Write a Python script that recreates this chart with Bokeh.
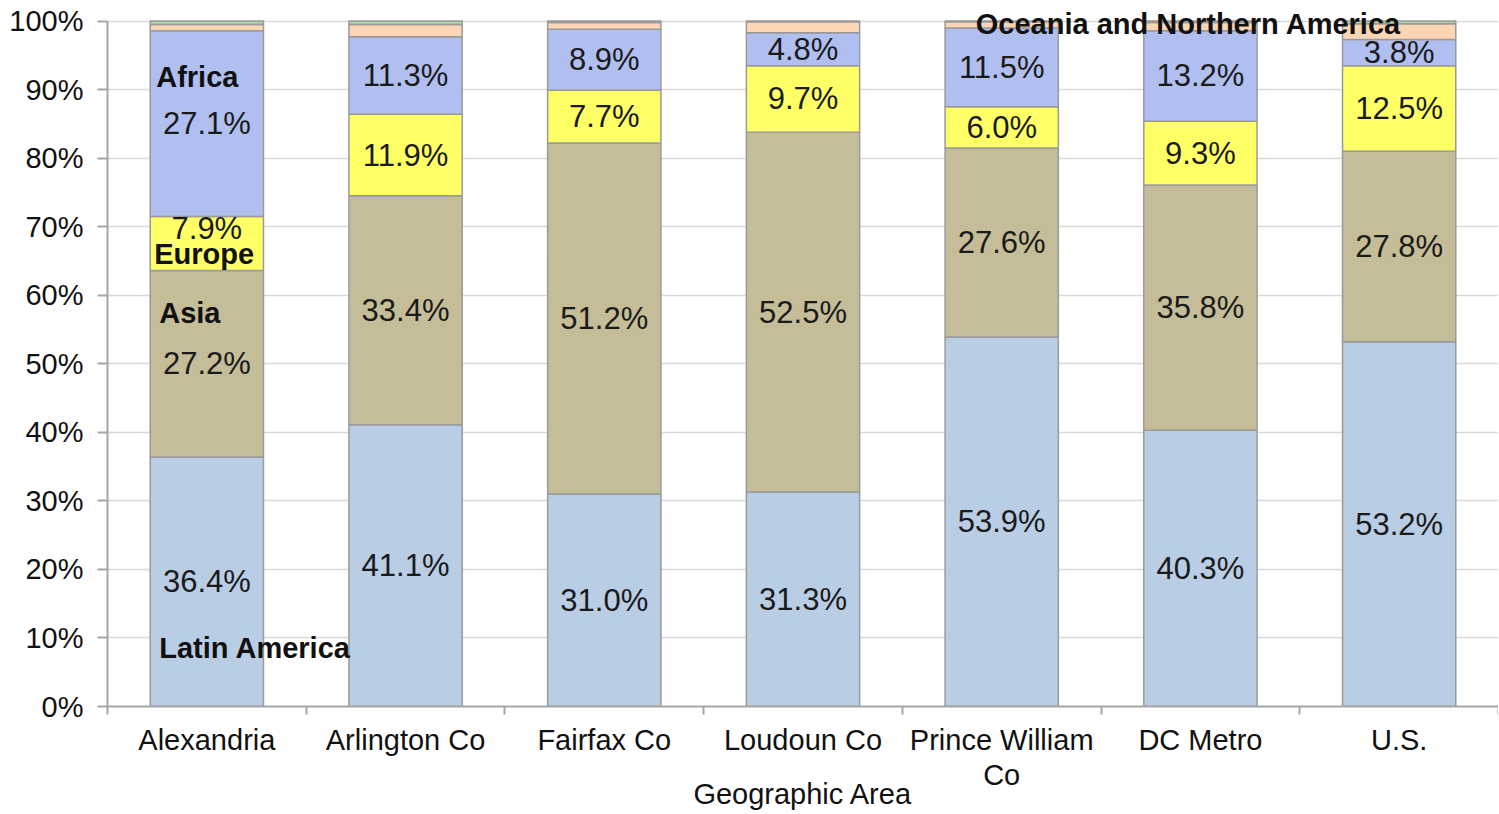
import numpy as np
from bokeh.plotting import figure
from bokeh.models import ColumnDataSource, FixedTicker, PrintfTickFormatter, Label, Range1d
from bokeh.core.properties import value
from bokeh.embed import file_html
from bokeh.resources import INLINE

# ---------------- data ----------------
geos = ["Alexandria", "Arlington Co", "Fairfax Co", "Loudoun Co", "Prince William Co", "DC Metro", "U.S."]
geo_tick_labels = ["Alexandria", "Arlington Co", "Fairfax Co", "Loudoun Co", "Prince William\nCo", "DC Metro", "U.S."]
latin_america = [36.4, 41.1, 31.0, 31.3, 53.9, 40.3, 53.2]
asia = [27.2, 33.4, 51.2, 52.5, 27.6, 35.8, 27.8]
europe = [7.9, 11.9, 7.7, 9.7, 6.0, 9.3, 12.5]
africa = [27.1, 11.3, 8.9, 4.8, 11.5, 13.2, 3.8]
northern_america = [0.9, 1.8, 1.0, 1.6, 0.9, 1.2, 2.3]
oceania = [0.5, 0.5, 0.2, 0.1, 0.1, 0.2, 0.4]
y_ticks = [0, 10, 20, 30, 40, 50, 60, 70, 80, 90, 100]

series_names = ["Latin America", "Asia", "Europe", "Africa", "Northern America", "Oceania"]
series_values = [latin_america, asia, europe, africa, northern_america, oceania]
colors = ["#B9CDE5", "#C4BD97", "#FFFF66", "#B0BFF0", "#FCD5B5", "#A6D6A0"]
labelled_series = 4  # value labels shown for the first four series

FONT_NAME = "Liberation Sans"
FONT = value(FONT_NAME)
BAR_W = 0.57

n = len(geos)
xs = (np.arange(n) + 0.5).tolist()

data = {"x": xs}
for name, vals in zip(series_names, series_values):
    data[name] = vals
source = ColumnDataSource(data)

p = figure(width=1498, height=812, output_backend="svg", toolbar_location=None,
           x_range=Range1d(0, n), y_range=Range1d(0, 101.4),
           min_border_left=107, min_border_right=0, min_border_top=11, min_border_bottom=106,
           background_fill_color="white", border_fill_color="white")
p.outline_line_color = None

p.vbar_stack(series_names, x="x", width=BAR_W, color=colors, source=source,
             line_color="#9a9a9a", line_width=1.5)

# value labels
lx, ly, lt, loff = [], [], [], []
for i in range(n):
    base = 0.0
    for s in range(labelled_series):
        v = series_values[s][i]
        lx.append(xs[i])
        ly.append(base + v / 2.0)
        lt.append(f"{v:.1f}%")
        loff.append(-15 if (i == 0 and s == 2) else 0)
        base += v
lsrc = ColumnDataSource(dict(x=lx, y=ly, text=lt, yoff=loff))
p.text(x="x", y="y", text="text", source=lsrc, y_offset="yoff",
       text_align="center", text_baseline="middle",
       text_font=FONT, text_font_size="31px", text_color="#1a1a1a")

# category (series) name labels
bar_left0 = xs[0] - BAR_W / 2
for txt, yv, xoff in [("Africa", 91.8, 6), ("Europe", 66.0, 4), ("Asia", 57.4, 9), ("Latin America", 8.6, 9)]:
    p.add_layout(Label(x=bar_left0, y=yv, x_offset=xoff, text=txt, text_font=FONT_NAME,
                       text_font_size="29px", text_font_style="bold", text_color="#111111",
                       text_align="left", text_baseline="middle"))
p.add_layout(Label(x=5.44, y=99.6, text="Oceania and Northern America", text_font=FONT_NAME,
                   text_font_size="29px", text_font_style="bold", text_color="#111111",
                   text_align="center", text_baseline="middle"))

# axes
ax = p.xaxis[0]
ax.ticker = FixedTicker(ticks=xs, minor_ticks=list(range(n + 1)))
ax.major_label_overrides = {x: lab for x, lab in zip(xs, geo_tick_labels)}
ax.major_tick_out = 0
ax.major_tick_in = 0
ax.minor_tick_out = 8
ax.minor_tick_in = 0
ax.minor_tick_line_color = "#a6a6a6"
ax.minor_tick_line_width = 2
ax.axis_line_color = "#a6a6a6"
ax.axis_line_width = 2
ax.major_label_text_font = FONT_NAME
ax.major_label_text_font_size = "29px"
ax.major_label_text_color = "#111111"
ax.major_label_text_line_height = 1.1
ax.major_label_standoff = 9
ax.axis_label = "Geographic Area"
ax.axis_label_text_font = FONT_NAME
ax.axis_label_text_font_size = "29px"
ax.axis_label_text_font_style = "normal"
ax.axis_label_text_color = "#111111"
ax.axis_label_text_line_height = 1.0
ax.axis_label_standoff = -16

ay = p.yaxis[0]
ay.ticker = FixedTicker(ticks=y_ticks)
ay.bounds = (0, 100)
ay.formatter = PrintfTickFormatter(format="%d%%")
ay.major_tick_out = 10
ay.major_tick_in = 0
ay.minor_tick_out = 0
ay.minor_tick_in = 0
ay.major_tick_line_color = "#a6a6a6"
ay.major_tick_line_width = 2
ay.axis_line_color = "#a6a6a6"
ay.axis_line_width = 2
ay.major_label_text_font = FONT_NAME
ay.major_label_text_font_size = "29px"
ay.major_label_text_color = "#111111"
ay.major_label_standoff = 14

p.xgrid.visible = False
p.ygrid.grid_line_color = "#d9d9d9"
p.ygrid.grid_line_width = 1.5

open("out.html", "w").write(file_html(p, INLINE))
